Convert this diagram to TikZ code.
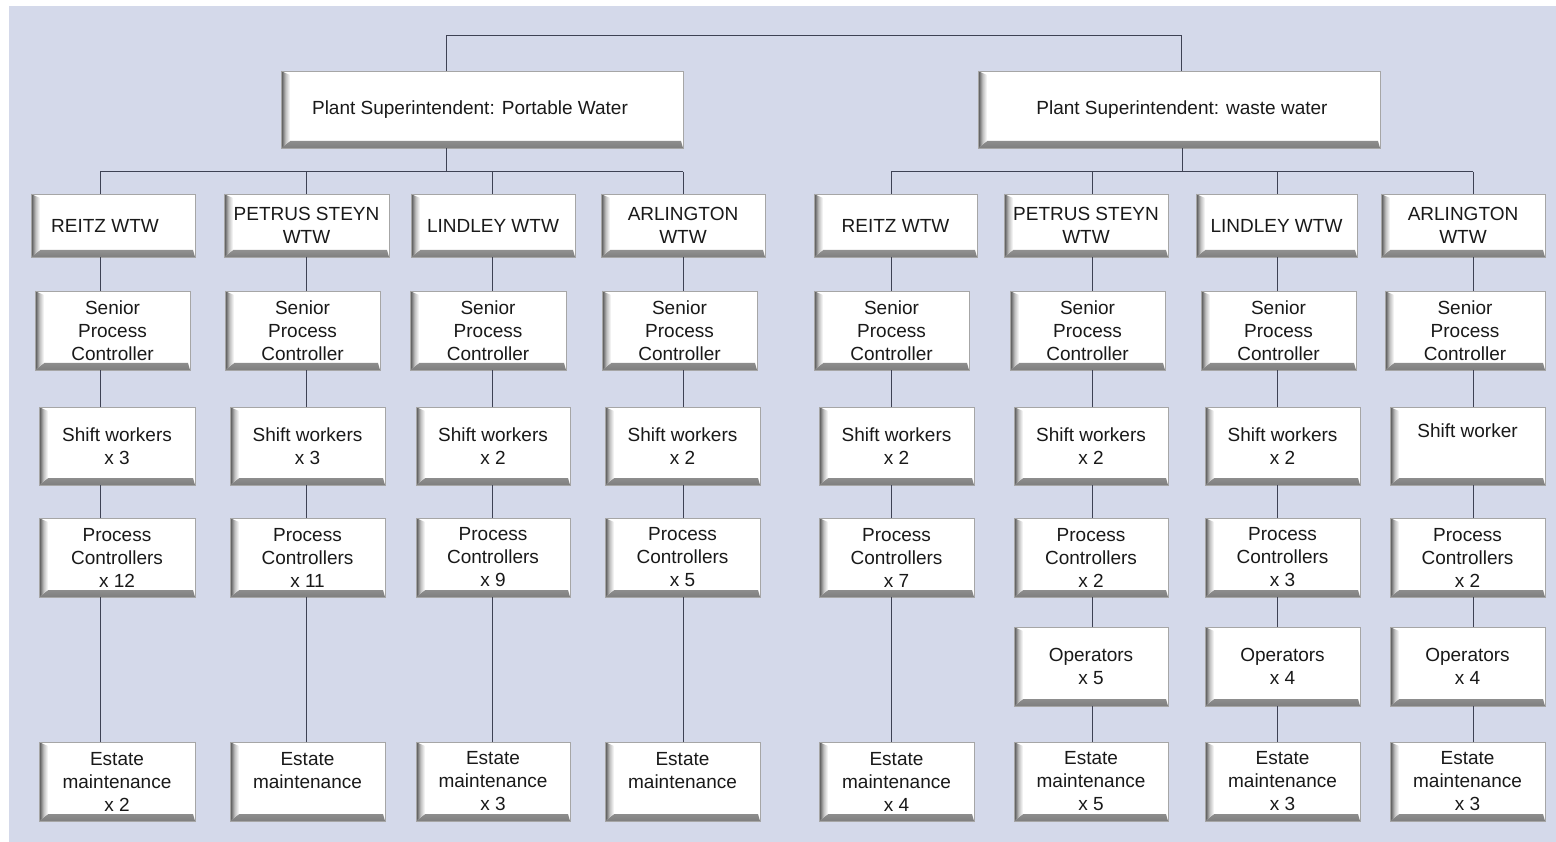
\documentclass[tikz,border=0pt]{standalone}
\usepackage{fontspec}
\setmainfont{Liberation Sans}
\definecolor{bgc}{RGB}{212,217,234}
\definecolor{lnc}{RGB}{62,66,84}
\newcommand\fs{\fontsize{19}{23}\selectfont}
\newcommand\obox[6]{\node[bx, minimum width={(#4)-(#2)}, minimum height={(#5)-(#3)}] (#1) at ({((#2)+(#4))/2},{((#3)+(#5))/2}) {#6};}
\tikzset{
 bx/.style={draw=black!35, line width=0.5pt, fill=white, align=center, font=\fs, inner sep=0pt, text=black!90,
  path picture={
   \shade[top color=white, bottom color=black!50, middle color=black!20]
     (path picture bounding box.south west) -- (path picture bounding box.south east)
     -- ([shift={(-2pt,7pt)}]path picture bounding box.south east)
     -- ([shift={(9pt,7pt)}]path picture bounding box.south west) -- cycle;
   \shade[left color=black!70, right color=white, middle color=black!25]
     (path picture bounding box.south west) -- ([shift={(9pt,7pt)}]path picture bounding box.south west)
     -- ([shift={(9pt,-4pt)}]path picture bounding box.north west) -- (path picture bounding box.north west) -- cycle;
  }},
 ln/.style={draw=lnc, line width=1pt}
}
\begin{document}
\begin{tikzpicture}[x=1pt,y=-1pt]
\useasboundingbox (0,0) rectangle (1556,842);
\fill[bgc] (9,6) rectangle (1556,842);
% column coordinates
\coordinate (tA) at (446,36);
\coordinate (tB) at (1181,36);
\coordinate (busA) at (446,172);
\coordinate (busB) at (1182,172);
\coordinate (a1) at (100,172);
\coordinate (a2) at (306,172);
\coordinate (a3) at (492,172);
\coordinate (a4) at (683,172);
\coordinate (b1) at (891,172);
\coordinate (b2) at (1092,172);
\coordinate (b3) at (1277,172);
\coordinate (b4) at (1473,172);
% superintendents
\obox{pa}{281}{71}{683}{148}{\hspace*{-24pt}Plant Superintendent: Portable Water}
\obox{pb}{978}{71}{1380}{148}{\hspace*{6pt}Plant Superintendent: waste water}
% WTW
\obox{a1w}{31}{194}{195}{257}{\hspace*{-16pt}REITZ WTW}
\obox{a2w}{224}{194}{389}{257}{PETRUS STEYN\\WTW}
\obox{a3w}{411}{194}{575}{257}{LINDLEY WTW}
\obox{a4w}{601}{194}{765}{257}{ARLINGTON\\WTW}
\obox{b1w}{814}{194}{977}{257}{REITZ WTW}
\obox{b2w}{1004}{194}{1168}{257}{PETRUS STEYN\\WTW}
\obox{b3w}{1196}{194}{1357}{257}{LINDLEY WTW}
\obox{b4w}{1381}{194}{1545}{257}{ARLINGTON\\WTW}
% Senior
\obox{a1s}{35}{291}{190}{370}{Senior\\Process\\Controller}
\obox{a2s}{225}{291}{380}{370}{Senior\\Process\\Controller}
\obox{a3s}{410}{291}{566}{370}{Senior\\Process\\Controller}
\obox{a4s}{602}{291}{757}{370}{Senior\\Process\\Controller}
\obox{b1s}{814}{291}{969}{370}{Senior\\Process\\Controller}
\obox{b2s}{1010}{291}{1165}{370}{Senior\\Process\\Controller}
\obox{b3s}{1201}{291}{1356}{370}{Senior\\Process\\Controller}
\obox{b4s}{1385}{291}{1545}{370}{Senior\\Process\\Controller}
% Shift
\obox{a1h}{39}{407}{195}{485}{Shift workers\\x 3}
\obox{a2h}{230}{407}{385}{485}{Shift workers\\x 3}
\obox{a3h}{416}{407}{570}{485}{Shift workers\\x 2}
\obox{a4h}{605}{407}{760}{485}{Shift workers\\x 2}
\obox{b1h}{819}{407}{974}{485}{Shift workers\\x 2}
\obox{b2h}{1014}{407}{1168}{485}{Shift workers\\x 2}
\obox{b3h}{1205}{407}{1360}{485}{Shift workers\\x 2}
\obox{b4h}{1390}{407}{1545}{485}{Shift worker\\\strut}
% Process controllers
\obox{a1p}{39}{518}{195}{597}{Process\\Controllers\\x 12}
\obox{a2p}{230}{518}{385}{597}{Process\\Controllers\\x 11}
\obox{a3p}{416}{518}{570}{597}{Process\\Controllers\\x 9}
\obox{a4p}{605}{518}{760}{597}{Process\\Controllers\\x 5}
\obox{b1p}{819}{518}{974}{597}{Process\\Controllers\\x 7}
\obox{b2p}{1014}{518}{1168}{597}{Process\\Controllers\\x 2}
\obox{b3p}{1205}{518}{1360}{597}{Process\\Controllers\\x 3}
\obox{b4p}{1390}{518}{1545}{597}{Process\\Controllers\\x 2}
% Operators
\obox{b2o}{1014}{627}{1168}{706}{Operators\\x 5}
\obox{b3o}{1205}{627}{1360}{706}{Operators\\x 4}
\obox{b4o}{1390}{627}{1545}{706}{Operators\\x 4}
% Estate
\obox{a1e}{39}{742}{195}{821}{Estate\\maintenance\\x 2}
\obox{a2e}{230}{742}{385}{821}{Estate\\maintenance\\\phantom{x}}
\obox{a3e}{416}{742}{570}{821}{Estate\\maintenance\\x 3}
\obox{a4e}{605}{742}{760}{821}{Estate\\maintenance\\\phantom{x}}
\obox{b1e}{819}{742}{974}{821}{Estate\\maintenance\\x 4}
\obox{b2e}{1014}{742}{1168}{821}{Estate\\maintenance\\x 5}
\obox{b3e}{1205}{742}{1360}{821}{Estate\\maintenance\\x 3}
\obox{b4e}{1390}{742}{1545}{821}{Estate\\maintenance\\x 3}
% connectors
\draw[ln] (tA |- pa.north) -- (tA) -- (tB) -- (tB |- pb.north);
\draw[ln] (busA |- pa.south) -- (busA);
\draw[ln] (busB |- pb.south) -- (busB);
\draw[ln] (a1) -- (a4);
\draw[ln] (b1) -- (b4);
\foreach \c in {a1,a2,a3,a4,b1,b2,b3,b4}{
  \draw[ln] (\c) -- (\c |- \c w.north);
  \draw[ln] (\c |- \c w.south) -- (\c |- \c s.north);
  \draw[ln] (\c |- \c s.south) -- (\c |- \c h.north);
  \draw[ln] (\c |- \c h.south) -- (\c |- \c p.north);
}
\foreach \c in {a1,a2,a3,a4,b1}{
  \draw[ln] (\c |- \c p.south) -- (\c |- \c e.north);
}
\foreach \c in {b2,b3,b4}{
  \draw[ln] (\c |- \c p.south) -- (\c |- \c o.north);
  \draw[ln] (\c |- \c o.south) -- (\c |- \c e.north);
}
\end{tikzpicture}
\end{document}
